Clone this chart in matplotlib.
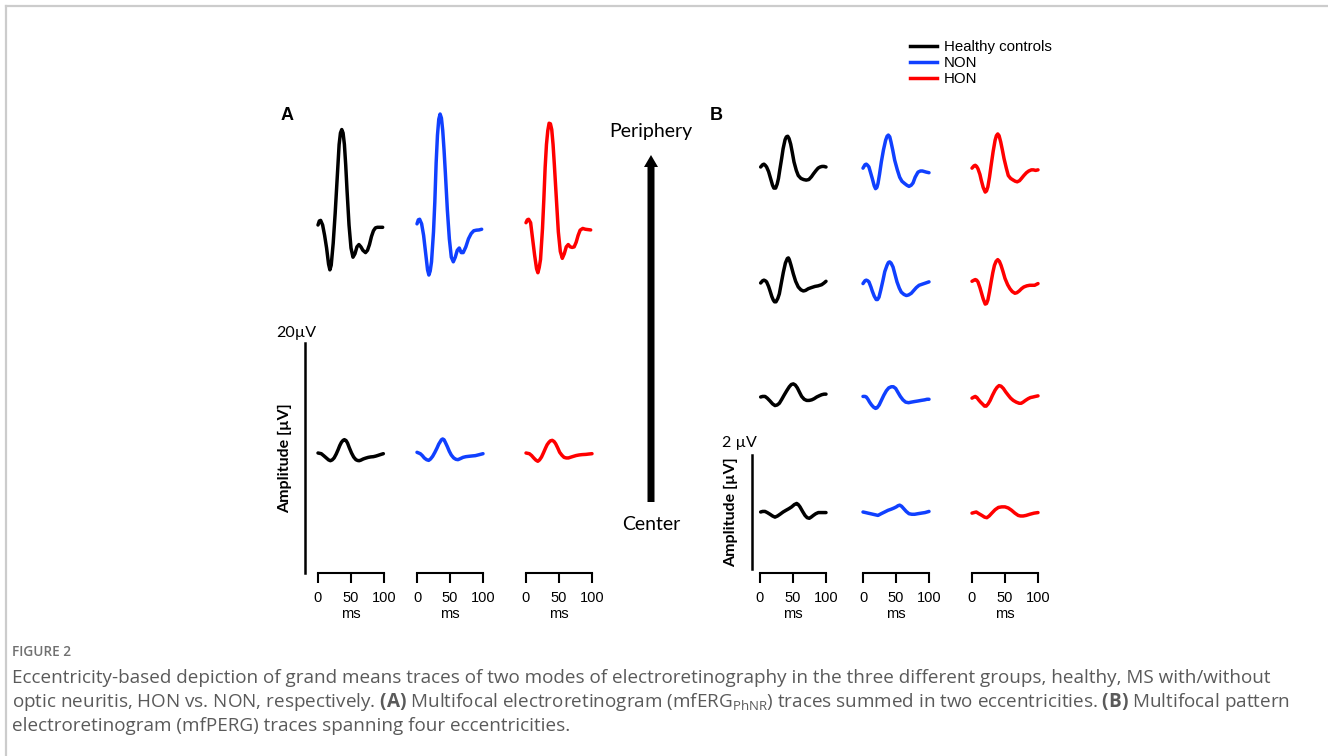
import matplotlib
matplotlib.use("Agg")
import matplotlib.pyplot as plt
from matplotlib.patches import FancyArrow
from matplotlib.lines import Line2D

plt.rcParams['mathtext.fontset'] = 'custom'
plt.rcParams['mathtext.rm'] = 'Open Sans'
plt.rcParams['mathtext.bf'] = 'Open Sans:bold'

# ---- data: grand mean traces, time in ms, amplitude in µV ----
groups = ["Healthy controls", "NON", "HON"]
colors = ["#000000", "#1040ff", "#ff0000"]

# (A) mfERG_PhNR, periphery (upper) and center (lower)
a_per_hc_t = [0, 2, 4, 7, 10, 13, 16, 18, 20, 23, 26, 28, 30, 32, 34, 36, 38, 40, 42, 44, 47, 50, 53, 56, 59, 62, 65, 68, 72, 75, 78, 81, 84, 87, 90, 94, 98]
a_per_hc_v = [0, 0.35, 0.4, 0.0, -0.9, -2.0, -3.4, -3.9, -3.5, -1.6, 1.0, 3.0, 5.0, 7.0, 8.0, 8.3, 8.0, 7.0, 5.2, 3.0, 0.0, -2.0, -2.8, -2.5, -1.9, -1.7, -1.9, -2.2, -2.4, -2.2, -1.7, -1.0, -0.5, -0.25, -0.2, -0.2, -0.2]
a_per_non_t = [0, 2, 4, 7, 10, 13, 16, 18, 20, 22, 25, 27, 29, 31, 33, 35, 37, 39, 41, 43, 46, 49, 52, 55, 58, 61, 64, 67, 70, 74, 78, 82, 86, 90, 94, 98]
a_per_non_v = [0.1, 0.45, 0.5, 0.1, -0.9, -2.4, -3.9, -4.35, -4.0, -3.2, -0.6, 2.0, 5.4, 7.8, 9.2, 9.65, 9.3, 8.2, 6.5, 4.5, 1.3, -1.2, -2.8, -3.2, -2.8, -2.2, -2.0, -2.4, -2.4, -1.9, -1.2, -0.75, -0.5, -0.45, -0.43, -0.37]
a_per_hon_t = [0, 2, 4, 7, 10, 13, 16, 18, 20, 22, 25, 27, 29, 31, 33, 35, 37, 39, 41, 43, 46, 49, 52, 55, 58, 61, 64, 67, 70, 73, 76, 79, 82, 86, 90, 94, 98]
a_per_hon_v = [0.2, 0.45, 0.5, 0.2, -1.2, -2.6, -3.8, -4.15, -3.7, -3.0, -0.3, 2.2, 5.0, 7.0, 8.2, 8.85, 8.8, 8.3, 7.0, 5.2, 2.3, -0.6, -2.3, -2.9, -2.5, -1.9, -1.7, -1.9, -1.95, -1.9, -1.5, -0.9, -0.45, -0.3, -0.37, -0.4, -0.43]

a_cen_hc_t = [0, 5, 9, 13, 16, 18.8, 21.5, 24.4, 27.5, 30.5, 33, 35.5, 38, 40, 42.5, 44.7, 47.5, 50.8, 54, 57.4, 60, 62.4, 65, 68.5, 72, 76.1, 80, 83.8, 87.5, 91.4, 95, 99]
a_cen_hc_v = [0, -0.06, -0.25, -0.45, -0.6, -0.67, -0.6, -0.43, -0.1, 0.29, 0.65, 0.93, 1.1, 1.16, 1.08, 0.87, 0.45, 0, -0.35, -0.58, -0.65, -0.67, -0.62, -0.52, -0.45, -0.38, -0.34, -0.32, -0.27, -0.2, -0.13, -0.06]
a_cen_non_t = [0, 5, 8, 11, 14.5, 17.7, 20.5, 23.7, 27, 30.3, 33, 35.4, 37, 38.9, 41, 42.9, 46, 49, 52, 55.6, 59, 62.1, 66, 69.7, 74, 78.3, 83, 88.4, 94, 100]
a_cen_non_v = [0.06, -0.06, -0.22, -0.43, -0.58, -0.64, -0.52, -0.29, 0.05, 0.43, 0.78, 1.0, 1.15, 1.22, 1.15, 0.93, 0.55, 0.14, -0.18, -0.43, -0.55, -0.58, -0.48, -0.38, -0.32, -0.29, -0.26, -0.23, -0.15, -0.06]
a_cen_hon_t = [0, 5.1, 8.5, 11.7, 15, 17.9, 20.5, 23.5, 26.5, 29.6, 32, 34.7, 37, 39.8, 42.5, 44.9, 48, 51, 54.5, 57.7, 61, 64.3, 68, 71.9, 76, 80.6, 85, 90.8, 95, 100]
a_cen_hon_v = [0, -0.06, -0.22, -0.43, -0.62, -0.72, -0.6, -0.35, 0.02, 0.43, 0.72, 0.93, 1.06, 1.1, 1.0, 0.81, 0.45, 0.06, -0.2, -0.38, -0.43, -0.43, -0.36, -0.29, -0.22, -0.17, -0.14, -0.12, -0.09, -0.06]

# (B) mfPERG, four eccentricities from periphery (ring 1) to center (ring 4)
b_r1_hc_t = [1, 4, 6, 8, 10, 13, 16, 19, 21, 23.7, 26, 28, 30, 32.8, 35, 38, 40, 42, 44, 46.5, 49, 51.5, 55, 58, 62, 66, 70, 74, 78, 81, 85, 88, 91, 94, 97, 100]
b_r1_hc_v = [0, 0.04, 0.05, 0.03, 0.0, -0.08, -0.2, -0.32, -0.37, -0.37, -0.3, -0.2, -0.05, 0.15, 0.32, 0.48, 0.53, 0.54, 0.5, 0.4, 0.25, 0.09, -0.06, -0.15, -0.2, -0.22, -0.23, -0.22, -0.17, -0.12, -0.06, -0.02, 0.0, 0.01, 0.01, 0]
b_r1_non_t = [0, 3, 5, 7, 9, 12, 14, 17, 19, 21, 22.7, 25, 27.8, 31, 34.3, 36.5, 38.4, 40.5, 42.4, 45, 48, 52, 55.6, 59, 63.1, 66.5, 69.7, 73, 75.8, 79, 83.3, 87, 90, 93, 96, 100]
b_r1_non_v = [-0.02, 0.04, 0.05, 0.03, 0, -0.12, -0.2, -0.33, -0.38, -0.36, -0.29, -0.13, 0.09, 0.3, 0.47, 0.54, 0.56, 0.53, 0.44, 0.3, 0.12, -0.05, -0.18, -0.25, -0.29, -0.32, -0.34, -0.32, -0.28, -0.18, -0.09, -0.07, -0.07, -0.08, -0.09, -0.1]
b_r1_hon_t = [0, 3, 5, 7, 9, 12, 14, 17, 20, 22, 24, 26.5, 29, 32, 35, 37, 39, 41, 43.5, 46, 48.5, 52, 55, 58.5, 62.5, 65.5, 68.5, 72, 75, 78.5, 82.5, 86, 90, 93, 96.5, 100]
b_r1_hon_v = [-0.02, 0.02, 0.03, 0.01, -0.03, -0.13, -0.23, -0.36, -0.44, -0.42, -0.35, -0.18, 0.03, 0.27, 0.47, 0.55, 0.58, 0.55, 0.44, 0.3, 0.15, -0.02, -0.15, -0.2, -0.23, -0.25, -0.26, -0.24, -0.2, -0.15, -0.1, -0.07, -0.05, -0.05, -0.06, -0.05]

b_r2_hc_t = [1, 4, 6, 8, 10, 13, 15, 18, 20.2, 22, 24.2, 27, 29.3, 32, 35.4, 38.5, 41.4, 43, 44.4, 47, 50.5, 54, 58, 62, 65.7, 69, 73.2, 78, 83.3, 88, 93.4, 97, 100]
b_r2_hc_v = [0, 0.04, 0.05, 0.04, 0.02, -0.06, -0.13, -0.24, -0.3, -0.33, -0.33, -0.27, -0.19, -0.02, 0.19, 0.35, 0.43, 0.44, 0.41, 0.31, 0.16, 0.03, -0.07, -0.12, -0.14, -0.13, -0.1, -0.08, -0.06, -0.05, -0.03, 0.0, 0.03]
b_r2_non_t = [0, 3, 5, 7, 9, 12, 14, 17, 20, 22, 24.2, 27, 30.3, 33, 36.4, 38.5, 40.4, 42.5, 45.5, 48.5, 51.5, 55, 58, 62, 65.7, 69, 73.2, 77, 80.8, 85, 89.9, 95, 100]
b_r2_non_v = [-0.01, 0.04, 0.05, 0.04, 0.02, -0.07, -0.14, -0.23, -0.29, -0.29, -0.25, -0.12, 0.05, 0.2, 0.31, 0.36, 0.37, 0.35, 0.28, 0.15, 0.02, -0.09, -0.16, -0.2, -0.22, -0.21, -0.18, -0.13, -0.08, -0.04, -0.02, 0.0, 0.02]
b_r2_hon_t = [0, 3, 5, 7, 9, 12, 14, 17, 20, 22, 24, 26.5, 29, 31.5, 34, 36.5, 39, 41.5, 44, 47, 50, 54, 57.5, 61, 65, 68, 71.5, 75, 78.5, 83, 87.5, 91, 95, 100]
b_r2_hon_v = [0.03, 0.05, 0.06, 0.05, 0.02, -0.08, -0.16, -0.28, -0.37, -0.36, -0.3, -0.15, 0.02, 0.18, 0.31, 0.38, 0.41, 0.38, 0.31, 0.2, 0.08, -0.03, -0.1, -0.15, -0.18, -0.17, -0.14, -0.1, -0.07, -0.05, -0.04, -0.04, -0.04, -0.01]

b_r3_hc_t = [1, 4, 7.6, 11, 15.2, 19, 22.7, 26, 29.3, 33, 36.4, 40.5, 44.4, 47.5, 50.5, 53.5, 56.6, 60, 63.1, 67, 70.7, 74.5, 78.3, 82, 85.9, 89.5, 93.4, 97, 100]
b_r3_hc_v = [0, 0.01, 0.01, -0.02, -0.07, -0.12, -0.15, -0.14, -0.11, -0.04, 0.03, 0.11, 0.18, 0.22, 0.23, 0.21, 0.16, 0.08, 0.01, -0.04, -0.06, -0.06, -0.05, -0.03, 0, 0.02, 0.04, 0.05, 0.05]
b_r3_non_t = [0, 3, 5, 7.5, 10, 13, 16.2, 19, 21.2, 24.5, 27.8, 31.5, 35.4, 39, 42.9, 46, 49.5, 53, 56.6, 60.5, 64.6, 69, 73.2, 78, 83.3, 88, 93.4, 97, 100]
b_r3_non_v = [0.01, 0.01, 0, -0.04, -0.09, -0.14, -0.18, -0.2, -0.19, -0.14, -0.06, 0.03, 0.11, 0.16, 0.18, 0.18, 0.15, 0.08, 0.01, -0.05, -0.09, -0.1, -0.09, -0.08, -0.07, -0.06, -0.05, -0.04, -0.04]
b_r3_hon_t = [0, 3, 5, 7.5, 10, 13, 16.5, 19, 21.5, 24.5, 27.5, 31, 35, 38, 41, 44, 47.5, 51, 55, 58.5, 62.5, 67, 71.5, 74.5, 77.5, 81, 85, 88.5, 92.5, 96, 100]
b_r3_hon_v = [-0.02, 0.0, 0.01, -0.01, -0.05, -0.09, -0.13, -0.16, -0.16, -0.12, -0.06, 0.03, 0.12, 0.17, 0.2, 0.19, 0.15, 0.09, 0.03, -0.02, -0.06, -0.09, -0.11, -0.11, -0.09, -0.06, -0.03, -0.01, 0, 0.01, 0.02]

b_r4_hc_t = [1, 4, 7.6, 11, 15.2, 19, 22.7, 26.5, 30.3, 35, 39.4, 44, 48, 52, 55.6, 58, 60.6, 64.5, 68.2, 71.5, 74.7, 77.5, 80.8, 84.5, 88.4, 94, 100]
b_r4_hc_v = [0, 0.01, 0.01, -0.01, -0.04, -0.07, -0.09, -0.07, -0.04, 0.0, 0.03, 0.06, 0.09, 0.13, 0.15, 0.13, 0.09, 0.01, -0.06, -0.1, -0.11, -0.09, -0.06, -0.03, -0.01, -0.01, -0.01]
b_r4_non_t = [0, 4, 7.6, 11.5, 15.2, 19, 22.7, 27.5, 32.8, 38, 42.9, 47, 50.5, 53, 55.6, 58.5, 61.6, 65.5, 69.7, 74, 78.3, 83, 88.4, 94, 100]
b_r4_non_v = [0, -0.01, -0.02, -0.03, -0.04, -0.05, -0.06, -0.03, 0, 0.03, 0.05, 0.07, 0.09, 0.11, 0.12, 0.1, 0.06, 0.01, -0.03, -0.04, -0.04, -0.03, -0.02, -0.01, 0.01]
b_r4_hon_t = [0, 3, 6.5, 10.5, 15, 19, 22.5, 26, 30, 35, 40, 45, 50, 55, 60, 65, 70, 73.5, 77.5, 82, 87.5, 94, 100]
b_r4_hon_v = [-0.02, -0.01, 0, -0.03, -0.06, -0.09, -0.1, -0.07, -0.02, 0.04, 0.08, 0.09, 0.09, 0.07, 0.03, -0.02, -0.06, -0.07, -0.07, -0.06, -0.04, -0.02, -0.01]

panel_a = [
    [(a_per_hc_t, a_per_hc_v), (a_per_non_t, a_per_non_v), (a_per_hon_t, a_per_hon_v)],
    [(a_cen_hc_t, a_cen_hc_v), (a_cen_non_t, a_cen_non_v), (a_cen_hon_t, a_cen_hon_v)],
]
panel_b = [
    [(b_r1_hc_t, b_r1_hc_v), (b_r1_non_t, b_r1_non_v), (b_r1_hon_t, b_r1_hon_v)],
    [(b_r2_hc_t, b_r2_hc_v), (b_r2_non_t, b_r2_non_v), (b_r2_hon_t, b_r2_hon_v)],
    [(b_r3_hc_t, b_r3_hc_v), (b_r3_non_t, b_r3_non_v), (b_r3_hon_t, b_r3_hon_v)],
    [(b_r4_hc_t, b_r4_hc_v), (b_r4_non_t, b_r4_non_v), (b_r4_hon_t, b_r4_hon_v)],
]

# ---- layout (pixels) ----
W, H = 1328, 756
fig = plt.figure(figsize=(W / 100, H / 100), dpi=100)

ov = fig.add_axes([0, 0, 1, 1])
ov.set_xlim(0, W)
ov.set_ylim(H, 0)
ov.axis("off")


def px_axes(x0, top, w, h):
    return fig.add_axes([x0 / W, 1 - (top + h) / H, w / W, h / H])


def draw_panel(rows, col_x, row_y, px_ms, px_uv, half_uv, axis_y):
    for r, row in enumerate(rows):
        for c, (t, v) in enumerate(row):
            half = half_uv * px_uv
            ax = px_axes(col_x[c], row_y[r] - half, 100 * px_ms, 2 * half)
            ax.plot(t, v, color=colors[c], lw=2.5, solid_capstyle="round",
                    solid_joinstyle="round", clip_on=False)
            ax.set_xlim(0, 100)
            ax.set_ylim(-half_uv, half_uv)
            ax.axis("off")
            ax.patch.set_alpha(0)
    for c in range(3):
        tx = px_axes(col_x[c], axis_y - 1, 100 * px_ms, 1)
        tx.set_xlim(0, 100)
        tx.set_yticks([])
        for s in ["top", "left", "right"]:
            tx.spines[s].set_visible(False)
        tx.spines["bottom"].set_linewidth(1.5)
        tx.set_xticks([0, 50, 100])
        tx.tick_params(axis="x", direction="out", length=7.5, width=1.5, pad=5.5,
                       labelsize=10.5)
        tx.set_xlabel("ms", fontsize=10.5, labelpad=1.5)
        tx.patch.set_alpha(0)
        for lab in tx.get_xticklabels():
            lab.set_family("Liberation Sans")
        tx.xaxis.label.set_family("Liberation Sans")


def scale_bar(x, bottom, px_uv, uv, text, text_xy, labelpad):
    sb = px_axes(x, bottom - uv * px_uv, 1, uv * px_uv)
    sb.set_ylim(0, uv)
    sb.set_xticks([])
    sb.set_yticks([])
    for s in ["top", "bottom", "right"]:
        sb.spines[s].set_visible(False)
    sb.spines["left"].set_linewidth(1.8)
    sb.patch.set_alpha(0)
    sb.set_ylabel("Amplitude [µV]", family="Lato", fontweight="bold",
                  fontsize=11.5, labelpad=labelpad)
    ov.text(text_xy[0], text_xy[1], text, family="Lato", fontsize=11.5,
            ha="center", va="center")


# panel A
draw_panel(panel_a, [318, 417, 526], [225, 453], 0.66, 11.5, 12, 573)
scale_bar(305, 573, 11.5, 20, "20µV", (296, 333), 9)
# panel B
draw_panel(panel_b, [760, 863, 972], [167, 283, 397, 512], 0.66, 57, 1.0, 573)
scale_bar(752, 569, 57, 2, "2 µV", (739, 443), 10)

ov.text(287, 115, "A", family="Liberation Sans", fontweight="bold", fontsize=13,
        ha="center", va="center")
ov.text(716, 115, "B", family="Liberation Sans", fontweight="bold", fontsize=13,
        ha="center", va="center")

# eccentricity arrow
ov.add_patch(FancyArrow(651, 502, 0, -347, width=7, head_width=14,
                        head_length=12, length_includes_head=True,
                        color="black", lw=0))
ov.text(651, 132, "Periphery", family="Lato", fontsize=14, ha="center", va="center")
ov.text(651, 525, "Center", family="Lato", fontsize=14, ha="center", va="center")

# legend
handles = [Line2D([], [], color=c, lw=2.5) for c in colors]
fig.legend(handles, groups, loc="upper left",
           bbox_to_anchor=(910 / W, 1 - 40 / H), frameon=False,
           prop={"family": "Liberation Sans", "size": 10.8},
           handlelength=1.8, handletextpad=0.47, labelspacing=0.13,
           borderpad=0, borderaxespad=0)

# frame lines
ov.add_line(Line2D([5.5, W], [5.5, 5.5], color="#cccccc", lw=1.6))
ov.add_line(Line2D([5.5, 5.5], [5.5, H], color="#cccccc", lw=1.6))

# caption
ov.text(12, 652, "FIGURE 2", family="Open Sans", fontsize=9.8, color="#707070",
        fontweight="semibold", va="center")
cap = [
    "Eccentricity-based depiction of grand means traces of two modes of electroretinography in the three different groups, healthy, MS with/without",
    r"optic neuritis, HON vs. NON, respectively. $\mathbf{(A)}$ Multifocal electroretinogram (mfERG$_{\mathrm{PhNR}}$) traces summed in two eccentricities. $\mathbf{(B)}$ Multifocal pattern",
    "electroretinogram (mfPERG) traces spanning four eccentricities.",
]
for i, line in enumerate(cap):
    ov.text(12, 678 + 24 * i, line, family="Open Sans", fontsize=13.6,
            color="#5a5a5a", va="center")

fig.savefig("out.png", dpi=100)
